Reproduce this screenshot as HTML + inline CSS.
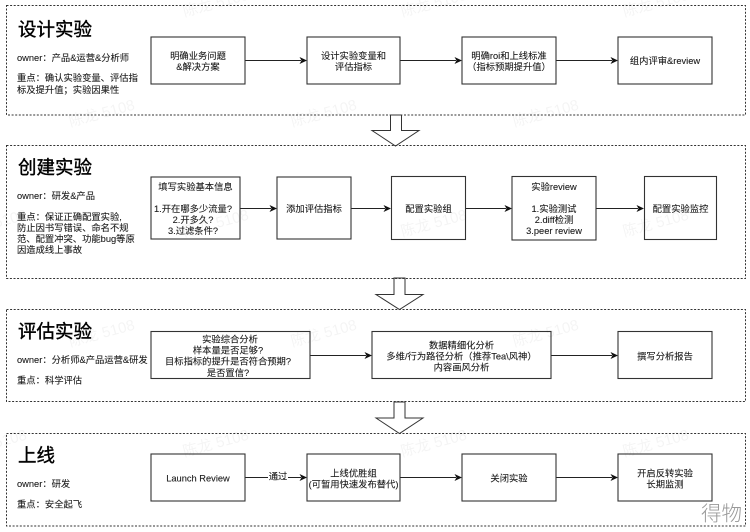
<!DOCTYPE html>
<html><head><meta charset="utf-8">
<style>
html,body{margin:0;padding:0;background:#fff;width:750px;height:532px;overflow:hidden}
svg{display:block;filter:blur(.35px)}
text{font-family:"Liberation Sans","Noto Sans CJK SC",sans-serif;fill:#1a1a1a;stroke:#1a1a1a;stroke-width:.1px;font-size:9.3px}
.t{font-size:18.5px;fill:#000;stroke:#000;stroke-width:.4px}
.c{text-anchor:middle}
.w{font-size:15px;fill:#000;stroke:none;fill-opacity:.045}
.b{fill:#fff;stroke:#333;stroke-width:1.1}
.p{fill:none;stroke:#333;stroke-width:1;stroke-dasharray:2 1.6}
.l{stroke:#222;stroke-width:1;fill:none}
.h{fill:#111}
.a{fill:#fff;stroke:#333;stroke-width:1}
</style></head><body>
<svg width="750" height="532" viewBox="0 0 750 532" xmlns="http://www.w3.org/2000/svg">
<!-- block arrows -->
<polygon class="a" points="390.500,115 401.500,115 401.500,130.500 419,130.500 395.500,146 372,130.500 390.500,130.500"/>
<polygon class="a" points="394,278 405,278 405,294.500 423,294.500 399.500,309.500 376,294.500 394,294.500"/>
<polygon class="a" points="394,402 405,402 405,418 423,418 399.500,433.500 376,418 394,418"/>
<!-- panels -->
<rect class="p" x="6.500" y="5.500" width="739" height="109.500"/>
<rect class="p" x="6.500" y="145.500" width="739" height="133"/>
<rect class="p" x="6.500" y="309.500" width="739" height="92"/>
<rect class="p" x="6.500" y="433.500" width="739" height="92.500"/>
<!-- connectors -->
<path class="l" d="M245 60.500H301M400 60.500H456M556 60.500H612"/>
<polygon class="h" points="307,60.500 299.500,57 301.500,60.500 299.500,64"/>
<polygon class="h" points="462,60.500 454.500,57 456.500,60.500 454.500,64"/>
<polygon class="h" points="618,60.500 610.500,57 612.500,60.500 610.500,64"/>
<path class="l" d="M240 208.500H271M351 208.500H385M466 208.500H506M596 208.500H638"/>
<polygon class="h" points="277,208.500 269.500,205 271.500,208.500 269.500,212"/>
<polygon class="h" points="391,208.500 383.500,205 385.500,208.500 383.500,212"/>
<polygon class="h" points="512,208.500 504.500,205 506.500,208.500 504.500,212"/>
<polygon class="h" points="644,208.500 636.500,205 638.500,208.500 636.500,212"/>
<path class="l" d="M310 355.500H366M551 355.500H612"/>
<polygon class="h" points="372,355.500 364.500,352 366.500,355.500 364.500,359"/>
<polygon class="h" points="618,355.500 610.500,352 612.500,355.500 610.500,359"/>
<path class="l" d="M245 477.500H301M400 477.500H456M556 477.500H612"/>
<polygon class="h" points="307,477.500 299.500,474 301.500,477.500 299.500,481"/>
<polygon class="h" points="462,477.500 454.500,474 456.500,477.500 454.500,481"/>
<polygon class="h" points="618,477.500 610.500,474 612.500,477.500 610.500,481"/>
<rect x="268" y="471" width="20" height="12" fill="#fff"/>
<text class="c" x="278" y="479.500">通过</text>
<!-- boxes -->
<rect class="b" x="151" y="37" width="94" height="47"/>
<rect class="b" x="307" y="37" width="93" height="47"/>
<rect class="b" x="462" y="37" width="94" height="47"/>
<rect class="b" x="618" y="37" width="94" height="47"/>
<rect class="b" x="151" y="177" width="89" height="62"/>
<rect class="b" x="277" y="177" width="74" height="62"/>
<rect class="b" x="391.500" y="176.500" width="74" height="63"/>
<rect class="b" x="512" y="176.500" width="84" height="63.500"/>
<rect class="b" x="644.500" y="176.500" width="72" height="63"/>
<rect class="b" x="151" y="331.500" width="159" height="47"/>
<rect class="b" x="372" y="331.500" width="179" height="47"/>
<rect class="b" x="618" y="331.500" width="94" height="47"/>
<rect class="b" x="151" y="454" width="94" height="47"/>
<rect class="b" x="307" y="454" width="93" height="47"/>
<rect class="b" x="462" y="454" width="94" height="47"/>
<rect class="b" x="618" y="454" width="94" height="47"/>
<!-- panel 1 text -->
<text class="t" x="18" y="36">设计实验</text>
<text x="17" y="61">owner：产品&amp;运营&amp;分析师</text>
<text x="17" y="81">重点：确认实验变量、评估指</text>
<text x="17" y="93">标及提升值；实验因果性</text>
<text class="c" x="198" y="59">明确业务问题</text>
<text class="c" x="198" y="70">&amp;解决方案</text>
<text class="c" x="353.500" y="59">设计实验变量和</text>
<text class="c" x="353.500" y="70">评估指标</text>
<text class="c" x="509" y="59">明确roi和上线标准</text>
<text class="c" x="509" y="70">（指标预期提升值）</text>
<text class="c" x="665" y="64">组内评审&amp;review</text>
<!-- panel 2 text -->
<text class="t" x="18" y="174">创建实验</text>
<text x="17" y="199">owner：研发&amp;产品</text>
<text x="17" y="220">重点：保证正确配置实验,</text>
<text x="17" y="231">防止因书写错误、命名不规</text>
<text x="17" y="242">范、配置冲突、功能bug等原</text>
<text x="17" y="253">因造成线上事故</text>
<text class="c" x="195.500" y="190">填写实验基本信息</text>
<text class="c" x="193" y="212">1.开在哪多少流量?</text>
<text class="c" x="193" y="223">2.开多久?</text>
<text class="c" x="193" y="234">3.过滤条件?</text>
<text class="c" x="314" y="212">添加评估指标</text>
<text class="c" x="428.500" y="212">配置实验组</text>
<text class="c" x="554" y="190">实验review</text>
<text class="c" x="554" y="212">1.实验测试</text>
<text class="c" x="554" y="223">2.diff检测</text>
<text class="c" x="554" y="234">3.peer review</text>
<text class="c" x="680.500" y="212">配置实验监控</text>
<!-- panel 3 text -->
<text class="t" x="18" y="338">评估实验</text>
<text x="17" y="363">owner：分析师&amp;产品运营&amp;研发</text>
<text x="17" y="383.500">重点：科学评估</text>
<text class="c" x="230" y="342.500">实验综合分析</text>
<text class="c" x="228" y="353.500">样本量是否足够?</text>
<text class="c" x="228" y="364.500">目标指标的提升是否符合预期?</text>
<text class="c" x="228" y="376">是否置信?</text>
<text class="c" x="461.500" y="348.500">数据精细化分析</text>
<text class="c" x="461.500" y="359.500">多维/行为路径分析（推荐Tea\风神）</text>
<text class="c" x="461.500" y="370.500">内容画风分析</text>
<text class="c" x="665" y="359.500">撰写分析报告</text>
<!-- panel 4 text -->
<text class="t" x="18" y="462">上线</text>
<text x="17" y="487">owner：研发</text>
<text x="17" y="507.500">重点：安全起飞</text>
<text class="c" x="198" y="481.500">Launch Review</text>
<text class="c" x="353.500" y="476.500">上线优胜组</text>
<text class="c" x="353.500" y="487.500">(可暂用快速发布替代)</text>
<text class="c" x="509" y="481.500">关闭实验</text>
<text class="c" x="665" y="476.500">开启反转实验</text>
<text class="c" x="665" y="487.500">长期监测</text>
<text x="701" y="520.500" style="font-size:20.500px;fill:#999;stroke:none;font-family:'Noto Sans CJK SC','WenQuanYi Zen Hei',sans-serif;font-weight:300">得物</text>
<!-- watermarks on top -->
<text class="w c" transform="translate(217,8) rotate(-15)">陈龙 5108</text>
<text class="w c" transform="translate(435,8) rotate(-15)">陈龙 5108</text>
<text class="w c" transform="translate(657,8) rotate(-15)">陈龙 5108</text>
<text class="w c" transform="translate(103,118) rotate(-15)">陈龙 5108</text>
<text class="w c" transform="translate(325,118) rotate(-15)">陈龙 5108</text>
<text class="w c" transform="translate(547,118) rotate(-15)">陈龙 5108</text>
<text class="w c" transform="translate(-5,228) rotate(-15)">陈龙 5108</text>
<text class="w c" transform="translate(217,228) rotate(-15)">陈龙 5108</text>
<text class="w c" transform="translate(435,228) rotate(-15)">陈龙 5108</text>
<text class="w c" transform="translate(657,228) rotate(-15)">陈龙 5108</text>
<text class="w c" transform="translate(103,338) rotate(-15)">陈龙 5108</text>
<text class="w c" transform="translate(325,338) rotate(-15)">陈龙 5108</text>
<text class="w c" transform="translate(547,338) rotate(-15)">陈龙 5108</text>
<text class="w c" transform="translate(-5,448) rotate(-15)">陈龙 5108</text>
<text class="w c" transform="translate(217,448) rotate(-15)">陈龙 5108</text>
<text class="w c" transform="translate(435,448) rotate(-15)">陈龙 5108</text>
<text class="w c" transform="translate(657,448) rotate(-15)">陈龙 5108</text>
</svg>
</body></html>
